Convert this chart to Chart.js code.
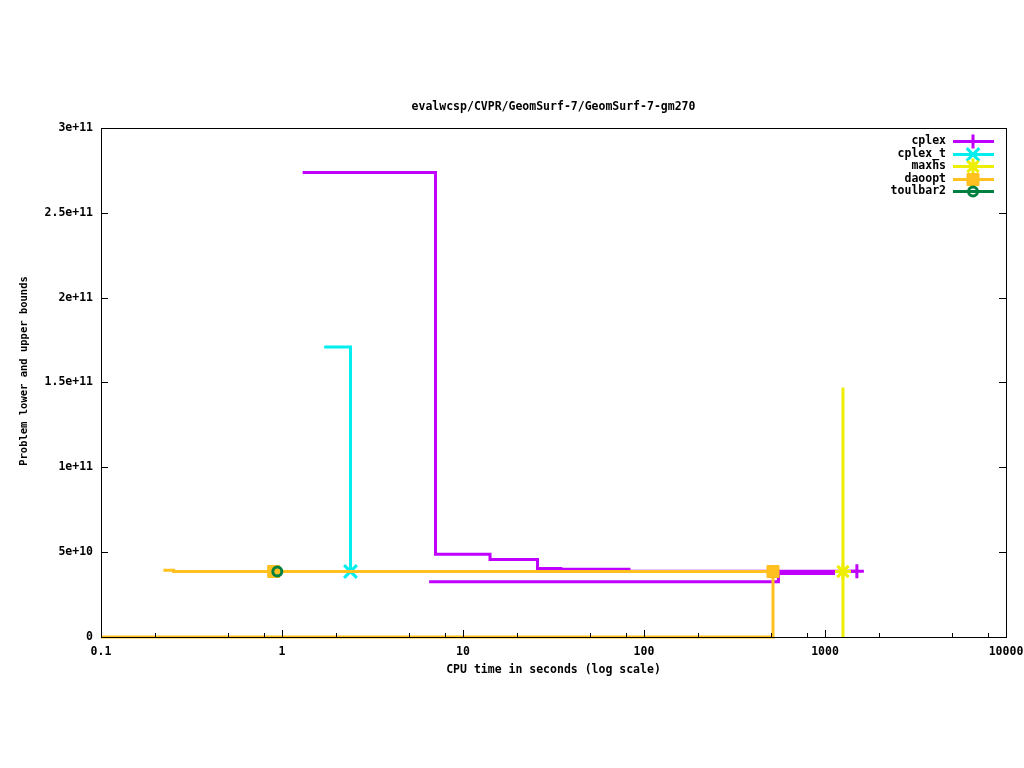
<!DOCTYPE html>
<html>
<head>
<meta charset="utf-8">
<title>evalwcsp/CVPR/GeomSurf-7/GeomSurf-7-gm270</title>
<script src="https://cdn.jsdelivr.net/npm/chart.js@4.4.1/dist/chart.umd.min.js"></script>
<style>
  html, body { margin: 0; padding: 0; background: #fff; }
  canvas { display: block; }
</style>
</head>
<body>
<canvas id="bounds-chart" width="1024" height="768"></canvas>
<script>
/* ===================== DATA (x = CPU seconds, y = bound) ===================== */

// cplex upper bound steps, then lower bound steps
const cplexUbTime  = [1.30, 7.05, 7.05, 14.1, 14.1, 25.8, 25.8, 34.7, 34.7, 82.6, 82.6, 1500];
const cplexUbBound = [2.737e11, 2.737e11, 4.88e10, 4.88e10, 4.57e10, 4.57e10, 4.04e10, 4.04e10, 3.99e10, 3.99e10, 3.87e10, 3.87e10];
const cplexLbTime  = [6.5, 553, 553, 1135];
const cplexLbBound = [3.26e10, 3.26e10, 3.74e10, 3.74e10];

const cplexTTime  = [1.71, 2.39, 2.39];
const cplexTBound = [1.708e11, 1.708e11, 3.86e10];

const maxhsTime  = [1257, 1257, 1257];
const maxhsBound = [1.47e11, 3.86e10, 0];

const daooptUbTime  = [0.221, 0.252, 0.252, 0.90, 516];
const daooptUbBound = [3.93e10, 3.93e10, 3.86e10, 3.86e10, 3.86e10];
const daooptLbTime  = [0.1, 516, 516];
const daooptLbBound = [0, 0, 3.86e10];

const toulbar2Time  = [0.942];
const toulbar2Bound = [3.86e10];

const seriesNames = ["cplex", "cplex_t", "maxhs", "daoopt", "toulbar2"];

const xTickValues = [0.1, 1, 10, 100, 1000, 10000];
const xMinorSteps = [2, 5, 8];
const yTickValues = [0, 5e10, 1e11, 1.5e11, 2e11, 2.5e11, 3e11];

/* ===================== STYLE ===================== */

const COLORS = {
  cplex: "#c000ff",
  cplex_t: "#00eeee",
  maxhs: "#eeee00",
  daoopt: "#ffc020",
  toulbar2: "#008040",
};

const MARKERS = {
  cplex:    { pointStyle: "cross",    radius: 7,   borderWidth: 3, fill: false },
  cplex_t:  { pointStyle: "crossRot", radius: 9,   borderWidth: 3, fill: false },
  maxhs:    { pointStyle: "star",     radius: 8,   borderWidth: 3, fill: false },
  daoopt:   { pointStyle: "rect",     radius: 8.5, borderWidth: 1, fill: true },
  toulbar2: { pointStyle: "circle",   radius: 4.5, borderWidth: 3, fill: false },
};

const FONT = { family: "'DejaVu Sans Mono', monospace", size: 11.5, weight: "bold" };

/* ===================== HELPERS ===================== */

function zip(xs, ys) {
  return xs.map((x, i) => ({ x, y: ys[i] }));
}

// one curve; markers only at the listed point indexes
function curve(name, xs, ys, markerAt, order) {
  const m = MARKERS[name];
  return {
    label: name,
    data: zip(xs, ys),
    showLine: true,
    clip: false,
    borderColor: COLORS[name],
    backgroundColor: m.fill ? COLORS[name] : "rgba(0,0,0,0)",
    borderWidth: 3,
    pointStyle: m.pointStyle,
    pointRadius: (ctx) => (markerAt.includes(ctx.dataIndex) ? m.radius : 0),
    pointBorderWidth: m.borderWidth,
    pointBorderColor: COLORS[name],
    pointBackgroundColor: m.fill ? COLORS[name] : "rgba(0,0,0,0)",
    order,
  };
}

/* ===================== PLUGINS ===================== */

// gnuplot style frame with inward ticks, drawn over the data
const frameAndTicks = {
  id: "frameAndTicks",
  afterDatasetsDraw(chart) {
    const { ctx, chartArea: a, scales: { x, y } } = chart;
    ctx.save();
    ctx.strokeStyle = "#000";
    ctx.lineWidth = 1;
    ctx.beginPath();

    xTickValues.forEach((v, i) => {
      const px = Math.round(x.getPixelForValue(v)) + 0.5;
      ctx.moveTo(px, a.bottom);
      ctx.lineTo(px, a.bottom - 7);
      if (i === xTickValues.length - 1) return;
      xMinorSteps.forEach((m) => {
        const mx = Math.round(x.getPixelForValue(v * m)) + 0.5;
        ctx.moveTo(mx, a.bottom);
        ctx.lineTo(mx, a.bottom - 4);
      });
    });

    yTickValues.forEach((v) => {
      const py = Math.round(y.getPixelForValue(v)) + 0.5;
      ctx.moveTo(a.left, py);
      ctx.lineTo(a.left + 7, py);
      ctx.moveTo(a.right, py);
      ctx.lineTo(a.right - 7, py);
    });
    ctx.stroke();

    ctx.strokeRect(Math.round(a.left) + 0.5, Math.round(a.top) + 0.5,
      Math.round(a.right - a.left), Math.round(a.bottom - a.top));
    ctx.restore();
  },
};

// key in the top right corner: text, then line sample with marker
const gnuplotKey = {
  id: "gnuplotKey",
  afterDraw(chart) {
    const { ctx } = chart;
    const textRight = 946, lineLeft = 953, lineRight = 994, markX = 973;
    const firstRow = 141, rowStep = 12.6;
    ctx.save();
    ctx.font = `${FONT.weight} ${FONT.size}px ${FONT.family}`;
    ctx.textAlign = "right";
    ctx.textBaseline = "middle";
    seriesNames.forEach((name, i) => {
      const ry = Math.round(firstRow + i * rowStep) + 0.5;
      ctx.fillStyle = "#000";
      ctx.fillText(name, textRight, ry);

      ctx.strokeStyle = COLORS[name];
      ctx.lineWidth = 3;
      ctx.beginPath();
      ctx.moveTo(lineLeft, ry);
      ctx.lineTo(lineRight, ry);
      ctx.stroke();

      const m = MARKERS[name];
      ctx.fillStyle = m.fill ? COLORS[name] : "rgba(0,0,0,0)";
      ctx.lineWidth = m.borderWidth;
      Chart.helpers.drawPoint(ctx, {
        pointStyle: m.pointStyle, radius: m.radius, borderWidth: m.borderWidth, rotation: 0,
      }, markX, ry);
    });
    ctx.restore();
  },
};

// rotated y title, placed like gnuplot does (a bit above the middle)
const yTitle = {
  id: "yTitle",
  afterDraw(chart) {
    const { ctx } = chart;
    ctx.save();
    ctx.translate(24, 371);
    ctx.rotate(-Math.PI / 2);
    ctx.font = `${FONT.weight} 10.5px ${FONT.family}`;
    ctx.fillStyle = "#000";
    ctx.textAlign = "center";
    ctx.textBaseline = "middle";
    ctx.fillText("Problem lower and upper bounds", 0, 0);
    ctx.restore();
  },
};

/* ===================== CHART ===================== */

const datasets = [
  curve("cplex", cplexUbTime, cplexUbBound, [cplexUbTime.length - 1], 0),
  curve("cplex", cplexLbTime, cplexLbBound, [], -1),
  curve("cplex_t", cplexTTime, cplexTBound, [cplexTTime.length - 1], -2),
  curve("maxhs", maxhsTime, maxhsBound, [1], -3),
  curve("daoopt", daooptLbTime, daooptLbBound, [], -4),
  curve("daoopt", daooptUbTime, daooptUbBound, [3, 4], -5),
  curve("toulbar2", toulbar2Time, toulbar2Bound, [0], -6),
];

new Chart(document.getElementById("bounds-chart"), {
  type: "scatter",
  data: { datasets },
  options: {
    responsive: false,
    animation: false,
    devicePixelRatio: 1,
    layout: { padding: { left: 0, right: 18, top: 0, bottom: 0 } },
    plugins: {
      legend: { display: false },
      tooltip: { enabled: false },
      title: {
        display: true,
        text: "evalwcsp/CVPR/GeomSurf-7/GeomSurf-7-gm270",
        fullSize: false,
        color: "#000",
        font: FONT,
        padding: { top: 100, bottom: 14 },
      },
    },
    scales: {
      x: {
        type: "logarithmic",
        min: 0.1,
        max: 10000,
        afterBuildTicks: (s) => { s.ticks = xTickValues.map((v) => ({ value: v })); },
        afterFit: (s) => {
          s.height = 131;
          // let "10000" run past the frame like gnuplot does
          s.paddingLeft = 0;
          s.paddingRight = 0;
        },
        grid: { display: false, drawTicks: false },
        border: { display: false },
        ticks: {
          color: "#000",
          font: FONT,
          padding: 8,
          maxRotation: 0,
          autoSkip: false,
          callback: (v) => String(v),
        },
        title: {
          display: true,
          text: "CPU time in seconds (log scale)",
          color: "#000",
          font: FONT,
          padding: { top: 0, bottom: 91 },
        },
      },
      y: {
        min: 0,
        max: 3e11,
        afterBuildTicks: (s) => { s.ticks = yTickValues.map((v) => ({ value: v })); },
        afterFit: (s) => { s.width = 101; },
        grid: { display: false, drawTicks: false },
        border: { display: false },
        ticks: {
          color: "#000",
          font: FONT,
          padding: 8,
          callback: (v) => (v === 0 ? "0" : v.toExponential()),
        },
      },
    },
  },
  plugins: [frameAndTicks, gnuplotKey, yTitle],
});
</script>
</body>
</html>
